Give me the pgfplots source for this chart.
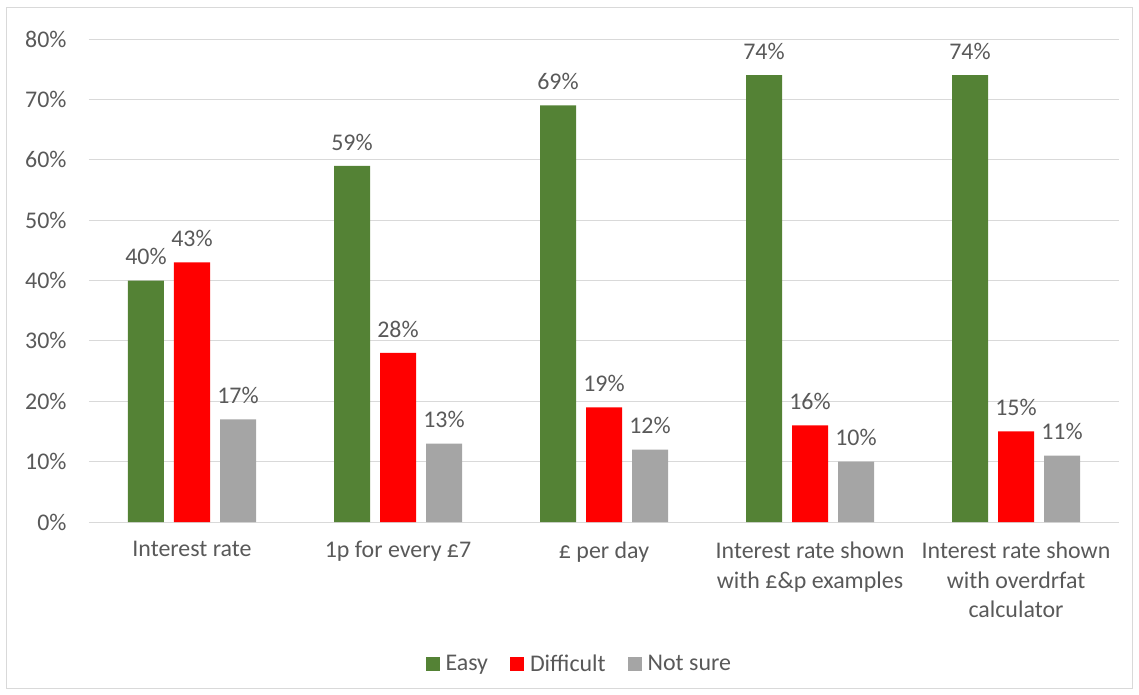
\documentclass[border=0pt]{standalone}
\usepackage{pgfplots}
\pgfplotsset{compat=1.18}
\usepackage{fontspec}
\setmainfont{Carlito}
\definecolor{cgreen}{HTML}{548235}
\definecolor{cred}{HTML}{FF0000}
\definecolor{cgray}{HTML}{A5A5A5}
\definecolor{ctext}{HTML}{595959}
\definecolor{cgrid}{HTML}{D9D9D9}
\begin{document}
\begin{tikzpicture}
\path[use as bounding box] (-89bp,-173bp) rectangle (1050bp,522bp);
\draw[cgrid,line width=1bp] (-82bp,-166bp) rectangle (1043bp,514bp);
\begin{axis}[
  at={(0,0)}, anchor=south west,
  scale only axis, width=1030bp, height=483bp,
  xmin=-0.5, xmax=4.5, ymin=0, ymax=80,
  ybar=10bp, bar width=36bp,
  xtick={0,1,2,3,4},
  xticklabels={Interest rate,1p for every £7,£ per day,{Interest rate shown\\with £\&p examples},{Interest rate shown\\with overdrfat\\calculator}},
  xticklabel style={align=center, font=\fontsize{24}{30}\selectfont, color=ctext, yshift=-16bp},
  ytick={0,10,...,80},
  yticklabel={\pgfmathprintnumber{\tick}\%},
  yticklabel style={font=\fontsize{24}{30}\selectfont, color=ctext, xshift=-19bp},
  /pgf/number format/assume math mode=true,
  major tick length=0pt,
  ymajorgrids, grid style={cgrid, line width=1bp},
  axis x line*=bottom, axis y line*=left,
  x axis line style={cgrid, line width=1bp, -},
  y axis line style={draw=none},
  nodes near coords={\pgfmathprintnumber{\pgfplotspointmeta}\%},
  nodes near coords style={font=\fontsize{24}{30}\selectfont, color=ctext, yshift=12bp},
  legend style={at={(0.476,-0.294)}, anchor=center, draw=none, legend columns=3,
    font=\fontsize{24}{30}\selectfont, text=ctext,
    /tikz/every odd column/.append style={column sep=4bp},
    /tikz/every even column/.append style={column sep=20bp}},
  legend image code/.code={\fill[#1] (0bp,-7bp) rectangle (14bp,7bp);},
]
\addplot[fill=cgreen, draw=none] coordinates {(0,40) (1,59) (2,69) (3,74) (4,74)};
\addplot[fill=cred, draw=none] coordinates {(0,43) (1,28) (2,19) (3,16) (4,15)};
\addplot[fill=cgray, draw=none] coordinates {(0,17) (1,13) (2,12) (3,10) (4,11)};
\legend{Easy,Difficult,Not sure}
\end{axis}
\end{tikzpicture}
\end{document}
